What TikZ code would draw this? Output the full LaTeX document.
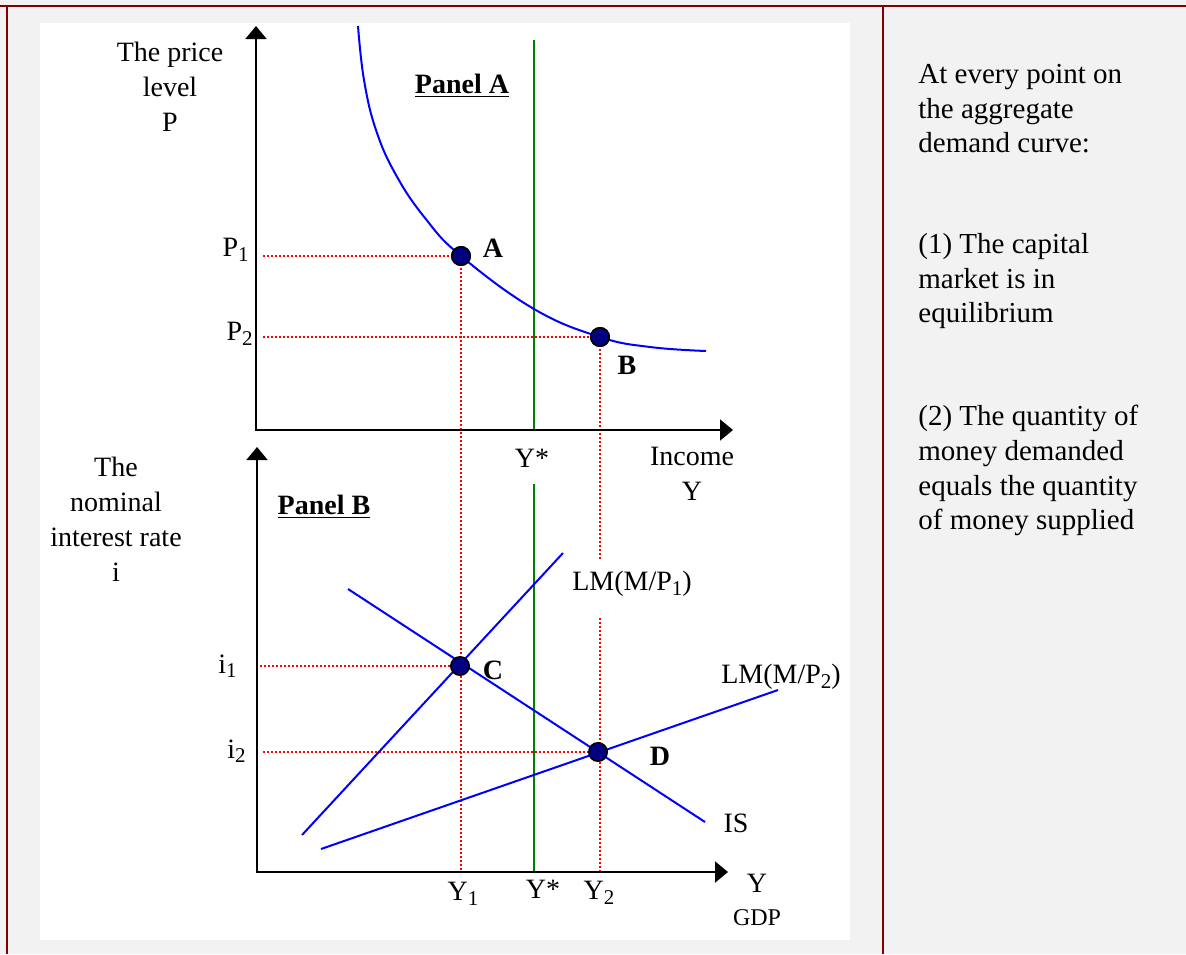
\documentclass[tikz,border=0pt]{standalone}
\usepackage{fontspec}
\setmainfont{Liberation Serif}
\usetikzlibrary{arrows.meta}
\definecolor{panelgray}{HTML}{F2F2F2}
\definecolor{rulered}{HTML}{800000}
\definecolor{dotnavy}{HTML}{000080}
\definecolor{ygreen}{HTML}{008000}
\newcommand{\lowsub}[1]{\raisebox{-0.35ex}{\fontsize{10.5}{12}\selectfont #1}}
\begin{document}
\begin{tikzpicture}[x=0.5pt,y=-0.5pt,
    axis/.style={line width=1pt,{Triangle[width=10.5pt,length=6.5pt]}-{Triangle[width=10.5pt,length=6.5pt]}},
    curve/.style={blue,line width=1pt},
    natural/.style={ygreen,line width=1pt},
    guide/.style={red,line width=0.8pt,dash pattern=on 0.9pt off 1.1pt},
    eqpt/.style={circle,fill=dotnavy,draw=black,line width=0.8pt,minimum size=9.2pt,inner sep=0pt},
    lbl/.style={font=\fontsize{14}{17.5}\selectfont,inner sep=0pt},
    ptlbl/.style={font=\fontsize{14}{17.5}\selectfont\bfseries,inner sep=0pt},
    note/.style={font=\fontsize{14.5}{17.3}\selectfont,align=left,anchor=north west,inner sep=0pt}]
    \useasboundingbox (0,0) rectangle (1186,954);
    % frame
    \fill[panelgray] (0,0) rectangle (1186,954);
    \fill[white] (40,23) rectangle (850,940);
    \draw[rulered,line width=1.2pt] (0,6) -- (1186,6);
    \draw[rulered,line width=1.2pt] (7,6) -- (7,954);
    \draw[rulered,line width=1.2pt] (883,6) -- (883,954);

    % Panel A
    \coordinate (OA) at (256,430);
    \coordinate (OAtop) at (256,26);
    \coordinate (OAright) at (733,430);
    \coordinate (YsAtop) at (534,40);
    \coordinate (YsA) at (534,430);
    \coordinate (P1) at (263,256);
    \coordinate (P2) at (263,337);
    \node[eqpt] (A) at (461,256) {};
    \node[eqpt] (B) at (600,337) {};

    % Panel B
    \coordinate (OB) at (257,872);
    \coordinate (OBtop) at (257,447);
    \coordinate (OBright) at (728,872);
    \coordinate (YsBtop) at (534,484);
    \coordinate (YsB) at (534,872);
    \coordinate (Y1) at (461,872);
    \coordinate (Y2a) at (600,560);
    \coordinate (Y2b) at (600,618);
    \coordinate (Y2) at (600,872);
    \coordinate (I1) at (260,666);
    \coordinate (I2) at (263,752);
    \coordinate (ISl) at (348,589);
    \coordinate (ISr) at (705,822);
    \coordinate (LMal) at (302,835);
    \coordinate (LMar) at (563,553);
    \coordinate (LMbl) at (321,849);
    \coordinate (LMbr) at (778,690);

    % guides
    \draw[guide] (P1) -- (A.center);
    \draw[guide] (P2) -- (B.center);
    \draw[guide] (A.center) -- (Y1);
    \draw[guide] (B.center) -- (Y2a);
    \draw[guide] (Y2b) -- (Y2);
    \draw[guide] (I1) -- (460,666);
    \draw[guide] (I2) -- (598,752);

    % curves
    \draw[natural] (YsAtop) -- (YsA);
    \draw[natural] (YsBtop) -- (YsB);
    \draw[curve] plot[smooth,tension=0.7] coordinates {(358,26) (364,80) (376,130) (396,175) (425,218) (461,256) (534,309) (600,337) (650,347) (706,351)};
    \draw[curve] (ISl) -- (ISr);
    \draw[curve] (LMal) -- (LMar);
    \draw[curve] (LMbl) -- (LMbr);

    \draw[axis] (OAtop) -- (OA) -- (OAright);
    \draw[axis] (OBtop) -- (OB) -- (OBright);

    \node[eqpt] at (A) {};
    \node[eqpt] at (B) {};
    \node[eqpt] (C) at (460,666) {};
    \node[eqpt] (D) at (598,752) {};

    % labels
    \node[ptlbl] (labA) at (493,248) {A};
    \node[ptlbl] (labB) at (627,365) {B};
    \node[ptlbl] (labC) at (493,670) {C};
    \node[ptlbl] (labD) at (660,756) {D};
    \node[ptlbl] (panA) at (462,86) {\underline{Panel A}};
    \node[ptlbl] (panB) at (324,507) {\underline{Panel B}};
    \node[lbl,align=center] (yA) at (170,87) {The price\\level\\P};
    \node[lbl,align=center] (yB) at (116,519) {The\\nominal\\interest rate\\i};
    \node[lbl,anchor=east] (lP1) at (249,250) {P\lowsub{1}};
    \node[lbl,anchor=east] (lP2) at (253,334) {P\lowsub{2}};
    \node[lbl,anchor=east] (li1) at (237,666) {i\lowsub{1}};
    \node[lbl,anchor=east] (li2) at (246,751) {i\lowsub{2}};
    \node[lbl] (lYsA) at (532,458) {Y*};
    \node[lbl,align=center] (lInc) at (692,474) {Income\\Y};
    \node[lbl] (lLM1) at (632,584) {LM(M/P\lowsub{1})};
    \node[lbl] (lLM2) at (781,677) {LM(M/P\lowsub{2})};
    \node[lbl] (lIS) at (736,823) {IS};
    \node[lbl] (lY1) at (463,894) {Y\lowsub{1}};
    \node[lbl] (lYsB) at (543,889) {Y*};
    \node[lbl] (lY2) at (599,893) {Y\lowsub{2}};
    \node[lbl,align=center] (lGDP) at (757,900) {Y\\[-1pt]{\fontsize{12}{14}\selectfont GDP}};

    % right column
    \node[note] (n0) at (918,64) {At every point on\\the aggregate\\demand curve:};
    \node[note] (n1) at (918,233) {(1) The capital\\market is in\\equilibrium};
    \node[note] (n2) at (918,405) {(2) The quantity of\\money demanded\\equals the quantity\\of money supplied};
\end{tikzpicture}
\end{document}
